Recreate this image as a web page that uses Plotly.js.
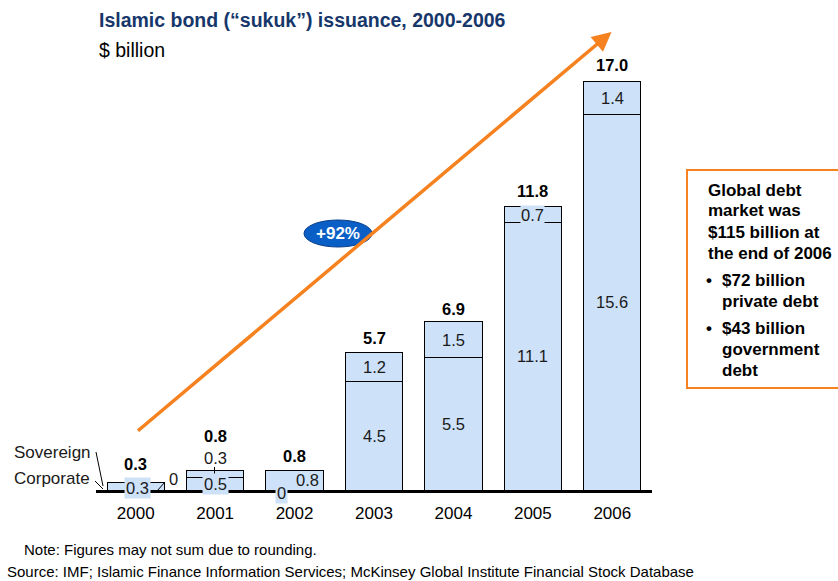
<!DOCTYPE html>
<html>
<head>
<meta charset="utf-8">
<script src="https://cdn.plot.ly/plotly-3.0.1.min.js"></script>
<style>html,body{margin:0;padding:0;background:#fff;}#chart{width:838px;height:581px;}</style>
</head>
<body>
<div id="chart"></div>
<script>
// ---- data ----
const years = ["2000", "2001", "2002", "2003", "2004", "2005", "2006"];
const corporate = [0.3, 0.5, 0, 4.5, 5.5, 11.1, 15.6];
const sovereign = [0, 0.3, 0.8, 1.2, 1.5, 0.7, 1.4];
const totals = [0.3, 0.8, 0.8, 5.7, 6.9, 11.8, 17.0];
const growthLabel = "+92%";
const boxLines = ["Global debt", "market was", "$115 billion at", "the end of 2006"];
const bullet1 = ["$72 billion", "private debt"];
const bullet2 = ["$43 billion", "government", "debt"];

// ---- styling / layout helpers ----
const W = 838, H = 581;
const M = {l: 96, r: 186, t: 30, b: 91};
const PW = W - M.l - M.r, PH = H - M.t - M.b;
const px = X => (X - M.l) / PW;
const py = Y => (H - M.b - Y) / PH;
const FONT = "Liberation Sans, Arial, sans-serif";
const FILL = "#cde1f8";
const ORANGE = "#f5821f";
const TXT = "#1a1a1a";

const traces = [
  {type: "bar", name: "Corporate", x: years, y: corporate,
   marker: {color: FILL, line: {color: "#000", width: 1}}, hoverinfo: "none"},
  {type: "bar", name: "Sovereign", x: years, y: sovereign,
   marker: {color: FILL, line: {color: "#000", width: 1}}, hoverinfo: "none"}
];

const ann = [];
function P(X, Y, text, opts) {
  ann.push(Object.assign({x: px(X), y: py(Y), xref: "paper", yref: "paper", text: text,
    xanchor: "center", yanchor: "middle", showarrow: false}, opts || {}));
}
// segment label placement tweaks (positioning only)
const corpAdj = [{bg: true, ys: -2, xs: 2}, {bg: true, ys: 0, xs: 0}, {bg: true, ys: -3, xs: -13}, {}, {}, {}, {}];
const sovAdj = [null, {above: true}, {xs: 13}, {}, {}, {bg: true}, {}];
const totAdj = [8, 24, 4, 4, 4, 4, 5];
const VF = {family: FONT, size: 16.5, color: TXT};

years.forEach((yr, i) => {
  const ca = corpAdj[i];
  ann.push({x: i, y: corporate[i] / 2, xref: "x", yref: "y", text: String(corporate[i]),
    xanchor: "center", yanchor: "middle", showarrow: false, font: VF,
    bgcolor: ca.bg ? FILL : "rgba(0,0,0,0)", borderpad: 1,
    xshift: ca.xs || 0, yshift: ca.ys || 0});
  const sa = sovAdj[i];
  if (sa === null) {
    P(173, 479, String(sovereign[i]), {font: VF});
  } else if (sa.above) {
    ann.push({x: i, y: totals[i], xref: "x", yref: "y", xanchor: "center", yanchor: "bottom",
      text: String(sovereign[i]), showarrow: false, yshift: 2, font: VF});
  } else {
    ann.push({x: i, y: corporate[i] + sovereign[i] / 2, xref: "x", yref: "y", text: String(sovereign[i]),
      xanchor: "center", yanchor: "middle", showarrow: false, font: VF,
      bgcolor: sa.bg ? FILL : "rgba(0,0,0,0)", borderpad: 0, xshift: sa.xs || 0});
  }
  ann.push({x: i, y: totals[i], xref: "x", yref: "y", xanchor: "center", yanchor: "bottom",
    text: "<b>" + totals[i].toFixed(1) + "</b>", showarrow: false, yshift: totAdj[i],
    font: {family: FONT, size: 16.5, color: "#000"}});
});

// growth arrow
ann.push({x: px(611.5), y: py(32), xref: "paper", yref: "paper", ax: 136.5 - 611.5, ay: 432 - 32,
  axref: "pixel", ayref: "pixel", text: "", showarrow: true, arrowhead: 2, arrowsize: 1.1,
  arrowwidth: 3.5, arrowcolor: ORANGE});
P(338, 233, "<b>" + growthLabel + "</b>", {font: {family: FONT, size: 17, color: "#fff"}});

// titles
P(97, 20, "<b>Islamic bond (“sukuk”) issuance, 2000-2006</b>", {xanchor: "left",
  font: {family: FONT, size: 19.5, color: "#17376b"}});
P(97, 50, "$ billion", {xanchor: "left", font: {family: FONT, size: 19.5, color: "#000"}});

// legend-like labels
P(93, 452, "Sovereign", {xanchor: "right", font: {family: FONT, size: 17, color: TXT}});
P(92, 478, "Corporate", {xanchor: "right", font: {family: FONT, size: 17, color: TXT}});

// right box text
const BF = {family: FONT, size: 17, color: "#000"};
const boxY = [190, 211, 232, 253];
boxLines.forEach((t, k) => P(706, boxY[k], "<b>" + t + "</b>", {xanchor: "left", font: BF}));
const b1Y = [280, 301], b2Y = [328, 349, 370];
bullet1.forEach((t, k) => P(720, b1Y[k], "<b>" + t + "</b>", {xanchor: "left", font: BF}));
bullet2.forEach((t, k) => P(720, b2Y[k], "<b>" + t + "</b>", {xanchor: "left", font: BF}));
[280, 328].forEach(Y => P(704, Y, "<b>•</b>", {xanchor: "left", font: BF}));

// footnotes
P(22, 549, "Note: Figures may not sum due to rounding.", {xanchor: "left", font: {family: FONT, size: 15, color: "#000"}});
P(5, 571, "Source: IMF; Islamic Finance Information Services; McKinsey Global Institute Financial Stock Database",
  {xanchor: "left", font: {family: FONT, size: 15, color: "#000"}});

const L = (x0, y0, x1, y1, c, w) => ({type: "line", xref: "paper", yref: "paper",
  x0: px(x0), y0: py(y0), x1: px(x1), y1: py(y1), line: {color: c, width: w}});
const shapes = [
  {type: "circle", xref: "paper", yref: "paper", x0: px(304), x1: px(372), y0: py(220), y1: py(247),
   fillcolor: "#0a5fc6", line: {color: "#0b3f8a", width: 1}},
  {type: "rect", xref: "paper", yref: "paper", x0: px(687), x1: px(850), y0: py(170), y1: py(388),
   line: {color: ORANGE, width: 2}, fillcolor: "rgba(0,0,0,0)"},
  L(96, 452, 103, 486, "#000", 1),
  L(95, 481, 103, 489, "#000", 1),
  L(157, 491, 165, 482, "#000", 1),
  L(214.5, 467, 214.5, 474, "#000", 1)
];

const layout = {
  width: W, height: H, margin: M, paper_bgcolor: "#fff", plot_bgcolor: "#fff",
  barmode: "stack", bargap: 0.28, showlegend: false,
  xaxis: {type: "category", range: [-0.5, 6.5], showline: true, linecolor: "#000", linewidth: 3,
    ticks: "", showgrid: false, zeroline: false, ticklabelstandoff: 6,
    tickfont: {family: FONT, size: 17, color: "#000"}, fixedrange: true},
  yaxis: {range: [0, 19.12], showticklabels: false, showline: false, ticks: "", showgrid: false,
    zeroline: false, fixedrange: true},
  annotations: ann, shapes: shapes
};
Plotly.newPlot("chart", traces, layout, {displayModeBar: false, staticPlot: true});
</script>
</body>
</html>
